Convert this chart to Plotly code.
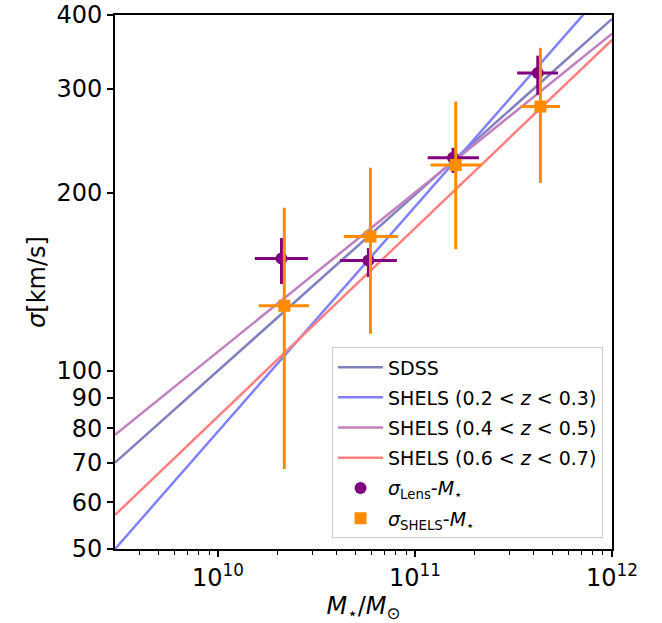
import plotly.graph_objects as go

# Data
lens_mass = [2.10e10, 5.80e10, 1.56e11, 4.20e11]
lens_mass_lo = [1.54e10, 4.16e10, 1.16e11, 3.30e11]
lens_mass_hi = [2.86e10, 8.09e10, 2.11e11, 5.32e11]
lens_sigma = [155.0, 153.8, 229.4, 319.0]
lens_sigma_lo = [140.3, 144.2, 216.3, 293.0]
lens_sigma_hi = [167.8, 161.4, 238.5, 341.4]

shels_mass = [2.17e10, 5.94e10, 1.61e11, 4.33e11]
shels_mass_lo = [1.61e10, 4.35e10, 1.20e11, 3.44e11]
shels_mass_hi = [2.90e10, 8.20e10, 2.18e11, 5.45e11]
shels_sigma = [128.9, 168.8, 223.0, 280.0]
shels_sigma_lo = [68.3, 115.6, 160.7, 208.0]
shels_sigma_hi = [188.8, 220.7, 285.6, 352.0]

line_mass = [3.0e9, 1.0e12]
sdss_sigma = [70.0, 394.0]
shels_z02_sigma = [50.0, 455.0]
shels_z04_sigma = [78.0, 372.0]
shels_z06_sigma = [57.1, 363.0]

line_names = ["SDSS", "SHELS (0.2 < <i>z</i> < 0.3)",
              "SHELS (0.4 < <i>z</i> < 0.5)", "SHELS (0.6 < <i>z</i> < 0.7)"]
line_colors = ["#8080bf", "#8080ff", "#c080c0", "#ff8080"]

y_ticks = [50, 60, 70, 80, 90, 100, 200, 300, 400]
x_ticks = [1e10, 1e11, 1e12]
x_ticktext = ["10<sup>10</sup>", "10<sup>11</sup>", "10<sup>12</sup>"]
x_minor = [4e9, 5e9, 6e9, 7e9, 8e9, 9e9,
           2e10, 3e10, 4e10, 5e10, 6e10, 7e10, 8e10, 9e10,
           2e11, 3e11, 4e11, 5e11, 6e11, 7e11, 8e11, 9e11]

fig = go.Figure()

for i, (name, ys, col) in enumerate(zip(line_names,
                         [sdss_sigma, shels_z02_sigma, shels_z04_sigma, shels_z06_sigma],
                         line_colors)):
    fig.add_trace(go.Scatter(x=line_mass, y=ys, mode="lines", name=name,
                             legendgroup="g%d" % i,
                             line=dict(color=col, width=2.5)))

def errs(c, lo, hi):
    return [h - v for v, h in zip(c, hi)], [v - l for v, l in zip(c, lo)]

lx_p, lx_m = errs(lens_mass, lens_mass_lo, lens_mass_hi)
ly_p, ly_m = errs(lens_sigma, lens_sigma_lo, lens_sigma_hi)
fig.add_trace(go.Scatter(
    x=lens_mass, y=lens_sigma, mode="markers",
    name="<i>σ</i><sub>Lens</sub>-<i>M</i><sub>⋆</sub>", legendgroup="g4",
    marker=dict(color="#800080", size=12, symbol="circle"),
    error_x=dict(type="data", array=lx_p, arrayminus=lx_m, color="#800080", thickness=3, width=0),
    error_y=dict(type="data", array=ly_p, arrayminus=ly_m, color="#800080", thickness=3, width=0),
))

sx_p, sx_m = errs(shels_mass, shels_mass_lo, shels_mass_hi)
sy_p, sy_m = errs(shels_sigma, shels_sigma_lo, shels_sigma_hi)
fig.add_trace(go.Scatter(
    x=shels_mass, y=shels_sigma, mode="markers",
    name="<i>σ</i><sub>SHELS</sub>-<i>M</i><sub>⋆</sub>", legendgroup="g5",
    marker=dict(color="#ff8c00", size=12, symbol="square"),
    error_x=dict(type="data", array=sx_p, arrayminus=sx_m, color="#ff8c00", thickness=3, width=0),
    error_y=dict(type="data", array=sy_p, arrayminus=sy_m, color="#ff8c00", thickness=3, width=0),
))

fig.update_layout(
    width=662, height=623,
    margin=dict(l=115, r=50, t=15, b=74),
    paper_bgcolor="white", plot_bgcolor="white",
    font=dict(family="DejaVu Sans", size=24, color="black"),
    showlegend=True,
    legend=dict(x=0.982, y=0.02, xanchor="right", yanchor="bottom",
                bordercolor="#cccccc", borderwidth=1, bgcolor="rgba(255,255,255,0.8)",
                font=dict(size=19), traceorder="grouped", tracegroupgap=2.5,
                itemwidth=45),
    xaxis=dict(
        type="log", range=[9.477, 12], automargin=False,
        tickvals=x_ticks, ticktext=x_ticktext,
        ticks="outside", ticklen=6, tickwidth=1.5, tickcolor="black",
        minor=dict(tickvals=x_minor, ticks="outside", ticklen=3.5, tickwidth=1, tickcolor="black"),
        showgrid=False, zeroline=False,
        showline=True, linecolor="black", linewidth=2, mirror=True,
        title=dict(text="<i>M</i><sub>⋆</sub>/<i>M</i><sub>⊙</sub>", standoff=3, font=dict(size=24)),
    ),
    yaxis=dict(
        type="log", range=[1.69897, 2.60206], automargin=False,
        tickvals=y_ticks, ticktext=[str(v) for v in y_ticks],
        ticks="outside", ticklen=6, tickwidth=1.5, tickcolor="black",
        showgrid=False, zeroline=False,
        showline=True, linecolor="black", linewidth=2, mirror=True,
        title=dict(text="<i>σ</i>[km/s]", standoff=4, font=dict(size=24)),
    ),
)

fig.write_html("out.html")
